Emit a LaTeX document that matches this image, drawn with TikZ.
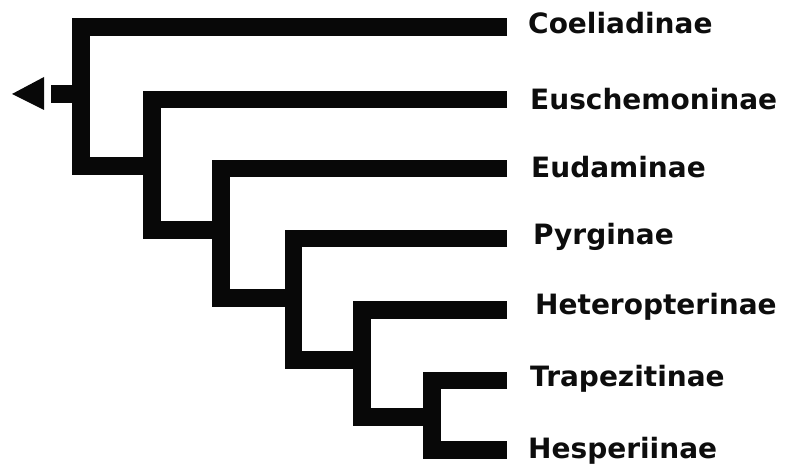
\documentclass[tikz,border=0pt]{standalone}
\usepackage{fontspec}
\newfontfamily\labfont{DejaVu Sans}
\begin{document}
\begin{tikzpicture}[x=1pt,y=-1pt,
  branch/.style={line width=17.5pt,line join=miter,line cap=butt,black!97},
  taxon/.style={anchor=base west,inner sep=0pt,font=\labfont\bfseries\fontsize{28}{30}\selectfont,text=black!95}]
\useasboundingbox (0,0) rectangle (787,468);
% leaf line ends
\coordinate (e1) at (507,27);
\coordinate (e2) at (507,99.5);
\coordinate (e3) at (507,168.5);
\coordinate (e4) at (507,238.5);
\coordinate (e5) at (507,310);
\coordinate (e6) at (507,380.5);
\coordinate (e7) at (507,450);
% internal corners
\coordinate (a1) at (81,166);
\coordinate (a2) at (152,230);
\coordinate (a3) at (221,298);
\coordinate (a4) at (293.5,360);
\coordinate (a5) at (362,417);
\coordinate (a6) at (432,450);
% joins into child verticals
\coordinate (j1) at (152,166);
\coordinate (j2) at (221,230);
\coordinate (j3) at (293.5,298);
\coordinate (j4) at (362,360);
\coordinate (j5) at (432,417);
% root stub
\coordinate (rs) at (81,94);
\coordinate (rt) at (51,94);
% labels
\node[taxon] (l1) at (528,34) {Coeliadinae};
\node[taxon] (l2) at (530,110) {Euschemoninae};
\node[taxon] (l3) at (531,178) {Eudaminae};
\node[taxon] (l4) at (533,244) {Pyrginae};
\node[taxon] (l5) at (535,314) {Heteropterinae};
\node[taxon] (l6) at (530,386) {Trapezitinae};
\node[taxon] (l7) at (528,458) {Hesperiinae};
% branches
\draw[branch] (e1) -| (a1) -- (j1);
\draw[branch] (e2) -| (a2) -- (j2);
\draw[branch] (e3) -| (a3) -- (j3);
\draw[branch] (e4) -| (a4) -- (j4);
\draw[branch] (e5) -| (a5) -- (j5);
\draw[branch] (e6) -| (a6) -- (e7);
\draw[branch] (rs) -- (rt);
% root arrowhead
\fill[black!97] (44,77) -- (12,94) -- (44,110) -- cycle;
\end{tikzpicture}
\end{document}
